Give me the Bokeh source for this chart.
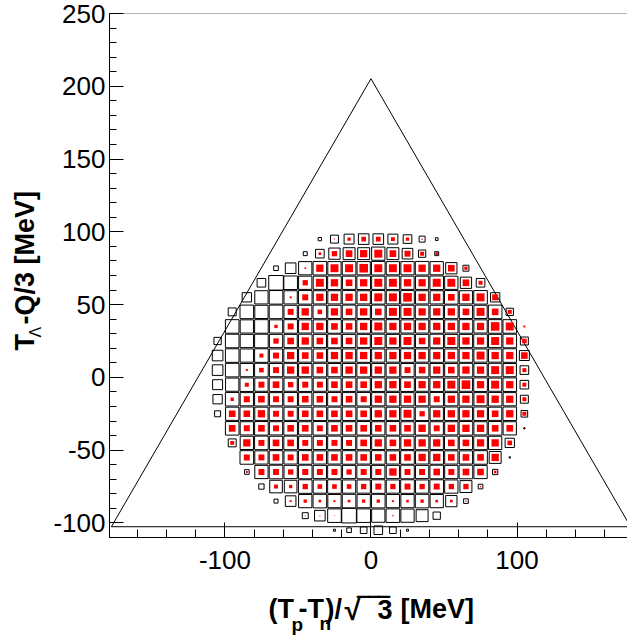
import math
from bokeh.plotting import figure
from bokeh.models import FixedTicker, Label, BoxAnnotation, ColumnDataSource
from bokeh.embed import file_html
from bokeh.resources import INLINE

# Binning: 10 MeV cells, centres listed below
x_centers = [-105 + 10 * i for i in range(22)]
y_centers = [95 - 10 * j for j in range(21)]
bin_width = 10.0

# Q-value of the decay (MeV): sets the kinematic (Dalitz) boundary triangle
q_value = 307.8

# Axis ranges and ticks
x_lo, x_hi = -179.0, 175.6
y_lo, y_hi = -110.0, 250.0
x_major = [-100, 0, 100]
x_minor = list(range(-160, 161, 20))
y_major = [-100, -50, 0, 50, 100, 150, 200, 250]
y_minor = list(range(-110, 251, 10))

# Phase-space / simulated counts per cell (rows from top y=95 to bottom y=-105)
black_counts = [
    [0, 0, 0, 0, 0, 0, 0, 10, 24, 30, 32, 32, 30, 26, 18, 8, 0, 0, 0, 0, 0, 0],
    [0, 0, 0, 0, 0, 0, 12, 26, 34, 36, 36, 40, 36, 32, 22, 12, 0, 0, 0, 0, 0, 0],
    [0, 0, 0, 0, 14, 32, 40, 41, 40, 41, 40, 41, 40, 40, 41, 40, 34, 18, 0, 0, 0, 0],
    [0, 0, 0, 26, 44, 41, 40, 40, 41, 40, 41, 40, 41, 40, 40, 41, 40, 34, 26, 0, 0, 0],
    [0, 0, 28, 40, 41, 40, 41, 40, 40, 41, 40, 41, 40, 41, 40, 40, 41, 40, 41, 28, 0, 0],
    [0, 24, 41, 40, 41, 40, 40, 41, 40, 41, 40, 41, 40, 40, 41, 40, 41, 40, 40, 41, 22, 0],
    [0, 41, 40, 41, 40, 41, 40, 40, 41, 40, 41, 40, 41, 40, 40, 41, 40, 41, 40, 41, 41, 0],
    [22, 41, 40, 41, 40, 40, 41, 40, 41, 40, 40, 41, 40, 41, 40, 41, 40, 40, 41, 40, 41, 24],
    [32, 41, 40, 41, 40, 41, 40, 40, 41, 40, 41, 40, 40, 41, 40, 41, 40, 41, 40, 40, 41, 30],
    [32, 41, 40, 41, 40, 41, 40, 41, 40, 40, 41, 40, 41, 40, 41, 40, 40, 41, 40, 41, 40, 26],
    [30, 40, 41, 40, 41, 40, 41, 40, 40, 41, 40, 41, 40, 41, 40, 41, 40, 40, 41, 40, 41, 26],
    [28, 41, 40, 41, 40, 41, 40, 40, 41, 40, 41, 40, 41, 40, 40, 41, 40, 41, 40, 41, 40, 24],
    [18, 40, 41, 40, 41, 40, 40, 41, 40, 41, 40, 41, 40, 40, 41, 40, 41, 40, 41, 40, 41, 20],
    [0, 41, 40, 41, 40, 41, 40, 41, 40, 40, 41, 40, 41, 40, 41, 40, 40, 41, 40, 41, 40, 4],
    [0, 24, 40, 41, 40, 41, 40, 40, 41, 40, 41, 40, 41, 40, 41, 40, 41, 40, 41, 40, 28, 0],
    [0, 0, 41, 40, 41, 40, 41, 40, 40, 41, 40, 41, 40, 41, 40, 41, 40, 40, 41, 36, 4, 0],
    [0, 0, 14, 40, 41, 40, 41, 40, 41, 40, 41, 40, 40, 41, 40, 41, 40, 41, 40, 16, 0, 0],
    [0, 0, 0, 16, 38, 38, 41, 40, 41, 40, 40, 41, 40, 41, 40, 41, 40, 36, 14, 0, 0, 0],
    [0, 0, 0, 0, 12, 32, 40, 41, 40, 41, 40, 41, 40, 40, 41, 40, 34, 14, 0, 0, 0, 0],
    [0, 0, 0, 0, 0, 0, 18, 32, 41, 44, 41, 40, 41, 40, 36, 22, 0, 0, 0, 0, 0, 0],
    [0, 0, 0, 0, 0, 0, 0, 0, 6, 14, 20, 26, 20, 6, 0, 0, 0, 0, 0, 0, 0, 0],
]

# Measured event counts per cell (same layout)
red_counts = [
    [0, 0, 0, 0, 0, 0, 0, 0, 3, 10, 14, 14, 12, 10, 4, 0, 0, 0, 0, 0, 0, 0],
    [0, 0, 0, 0, 0, 0, 0, 8, 16, 20, 22, 24, 20, 18, 12, 8, 0, 0, 0, 0, 0, 0],
    [0, 0, 0, 0, 0, 0, 5, 22, 24, 24, 26, 24, 24, 24, 22, 22, 20, 10, 0, 0, 0, 0],
    [0, 0, 0, 0, 0, 0, 16, 24, 22, 20, 22, 24, 24, 22, 22, 24, 24, 20, 12, 0, 0, 0],
    [0, 0, 0, 0, 0, 6, 18, 22, 22, 22, 22, 24, 24, 26, 22, 22, 20, 22, 24, 18, 0, 0],
    [0, 0, 0, 0, 0, 18, 22, 14, 22, 20, 22, 20, 24, 24, 22, 22, 22, 20, 24, 20, 12, 0],
    [0, 0, 0, 0, 10, 18, 22, 22, 20, 20, 22, 24, 22, 22, 22, 22, 22, 22, 22, 26, 24, 6],
    [0, 0, 0, 0, 16, 20, 22, 20, 20, 20, 22, 24, 22, 24, 20, 22, 24, 22, 22, 24, 22, 14],
    [0, 0, 0, 12, 18, 22, 20, 20, 22, 22, 22, 22, 22, 22, 22, 22, 22, 22, 24, 22, 22, 20],
    [0, 0, 6, 14, 18, 22, 22, 20, 20, 22, 22, 22, 22, 18, 20, 22, 20, 22, 22, 24, 24, 12],
    [0, 0, 12, 18, 20, 16, 18, 18, 20, 20, 20, 22, 22, 20, 22, 22, 24, 26, 22, 24, 22, 12],
    [0, 10, 18, 20, 18, 18, 20, 20, 18, 20, 18, 22, 22, 22, 22, 18, 22, 22, 24, 22, 22, 12],
    [0, 20, 20, 22, 18, 18, 20, 20, 20, 20, 20, 22, 22, 24, 16, 22, 22, 22, 22, 20, 22, 12],
    [0, 20, 18, 20, 18, 20, 20, 18, 20, 20, 20, 20, 20, 20, 22, 18, 22, 22, 22, 20, 20, 3],
    [0, 12, 22, 18, 20, 20, 18, 18, 18, 18, 20, 22, 20, 22, 22, 22, 20, 20, 22, 22, 14, 0],
    [0, 0, 18, 18, 20, 18, 20, 20, 20, 20, 20, 20, 20, 20, 22, 22, 20, 20, 20, 22, 0, 0],
    [0, 0, 6, 18, 18, 16, 18, 18, 18, 16, 18, 18, 22, 18, 18, 20, 18, 20, 20, 8, 0, 0],
    [0, 0, 0, 0, 12, 10, 16, 14, 14, 14, 16, 18, 16, 18, 16, 18, 16, 16, 4, 0, 0, 0],
    [0, 0, 0, 0, 0, 6, 10, 8, 6, 8, 10, 10, 6, 8, 10, 8, 8, 4, 0, 0, 0, 0],
    [0, 0, 0, 0, 0, 0, 3, 3, 2, 0, 0, 0, 4, 0, 0, 0, 0, 0, 0, 0, 0, 0],
    [0, 0, 0, 0, 0, 0, 0, 0, 0, 0, 0, 0, 0, 0, 0, 0, 0, 0, 0, 0, 0, 0],
]

# Box side scales linearly with content; the largest cell fills its bin
zmax = max(max(r) for r in black_counts)


def box_source(counts):
    xs, ys, ws = [], [], []
    for j, row in enumerate(counts):
        for i, c in enumerate(row):
            if c > 0:
                xs.append(x_centers[i])
                ys.append(y_centers[j])
                ws.append(bin_width * c / zmax)
    return ColumnDataSource(dict(x=xs, y=ys, w=ws))


# Canvas and where the axes sit on it (pixels)
W, H = 627, 639
AX_LEFT, AX_TOP, AX_BOTTOM = 109, 13, 537
sx = (x_hi - x_lo) / (W - AX_LEFT)          # MeV per pixel, horizontal
sy = (y_hi - y_lo) / (AX_BOTTOM - AX_TOP)   # MeV per pixel, vertical
view_x = (x_lo - AX_LEFT * sx, x_hi)
view_y = (y_lo - (H - AX_BOTTOM) * sy, y_hi + AX_TOP * sy)

p = figure(width=W, height=H, x_range=view_x, y_range=view_y,
           output_backend="svg", toolbar_location=None,
           min_border=0, min_border_left=0, min_border_right=0,
           min_border_top=0, min_border_bottom=0)
p.outline_line_color = None
p.xgrid.visible = False
p.ygrid.visible = False
p.background_fill_color = "white"
p.border_fill_color = "white"

# Frame border (right edge lies past the canvas)
p.add_layout(BoxAnnotation(left=x_lo, right=x_hi + 10, bottom=y_lo, top=y_hi,
                           fill_color=None, line_color="black", line_width=1,
                           level="underlay"))

# Kinematic boundary
apex = (0.0, 2.0 * q_value / 3.0)
base_y = -q_value / 3.0
half = q_value / math.sqrt(3.0)
p.line([-half, apex[0], half, -half], [base_y, apex[1], base_y, base_y],
       line_color="black", line_width=1)

# Open black boxes, then filled red boxes on the same scale
p.rect(x="x", y="y", width="w", height="w", source=box_source(black_counts),
       fill_color=None, line_color="black", line_width=1)
p.rect(x="x", y="y", width="w", height="w", source=box_source(red_counts),
       fill_color="red", line_color=None)

font = "Liberation Sans"
xa, ya = p.xaxis[0], p.yaxis[0]
xa.fixed_location = y_lo
ya.fixed_location = x_lo
xa.bounds = (x_lo, x_hi)
ya.bounds = (y_lo, y_hi)
for ax in (xa, ya):
    ax.axis_line_color = "black"
    ax.axis_line_width = 1
    ax.major_tick_line_color = "black"
    ax.minor_tick_line_color = "black"
    ax.major_tick_out = 0
    ax.minor_tick_out = 0
    ax.major_label_text_font = font
    ax.major_label_text_font_size = "26px"
    ax.major_label_text_color = "black"

ya.ticker = FixedTicker(ticks=y_major, minor_ticks=y_minor)
ya.major_label_overrides = {v: str(v) for v in y_major}
ya.major_tick_in = 14
ya.minor_tick_in = 7
ya.major_label_standoff = 4

xa.ticker = FixedTicker(ticks=x_major, minor_ticks=x_minor)
xa.major_label_overrides = {v: str(v) for v in x_major}
xa.major_tick_in = 15
xa.minor_tick_in = 8
xa.major_label_standoff = 13


def put(text, cx, cy, size, angle=0.0, bold=True):
    # cx, cy: canvas pixels (from the top-left) of the start of the baseline;
    # the label anchor sits a little above the drawn baseline, so lift it.
    if angle == 0.0:
        cy -= 0.42 * size
    else:
        cx -= 0.50 * size
    p.add_layout(Label(x=cx, y=H - cy, x_units="screen", y_units="screen",
                       text=text, angle=angle, text_font=font,
                       text_font_style="bold" if bold else "normal",
                       text_font_size=f"{size}px", text_color="black",
                       text_align="left", text_baseline="alphabetic"))


# x-axis title: (T_p - T_n)/sqrt(3) [MeV]
put("(T", 268, 620, 27)
put("p", 291, 632, 19)
put("-T", 298, 620, 27)
put("n", 319, 631, 19)
put(")/", 325, 620, 27)
put("\u221a", 344, 622, 30)
put("3", 377, 620, 27)
for bar_x in (358, 369, 379):
    put("\u203e", bar_x, 620, 27)
put("[MeV]", 400, 620, 27)

# y-axis title: T_Lambda - Q/3 [MeV], rotated
put("T", 38, 350, 27, angle=math.pi / 2)
put("\u039b", 43, 337, 16, angle=math.pi / 2, bold=False)
put("-Q/3 [MeV]", 38, 324, 27, angle=math.pi / 2)

open("out.html", "w").write(file_html(p, INLINE))
